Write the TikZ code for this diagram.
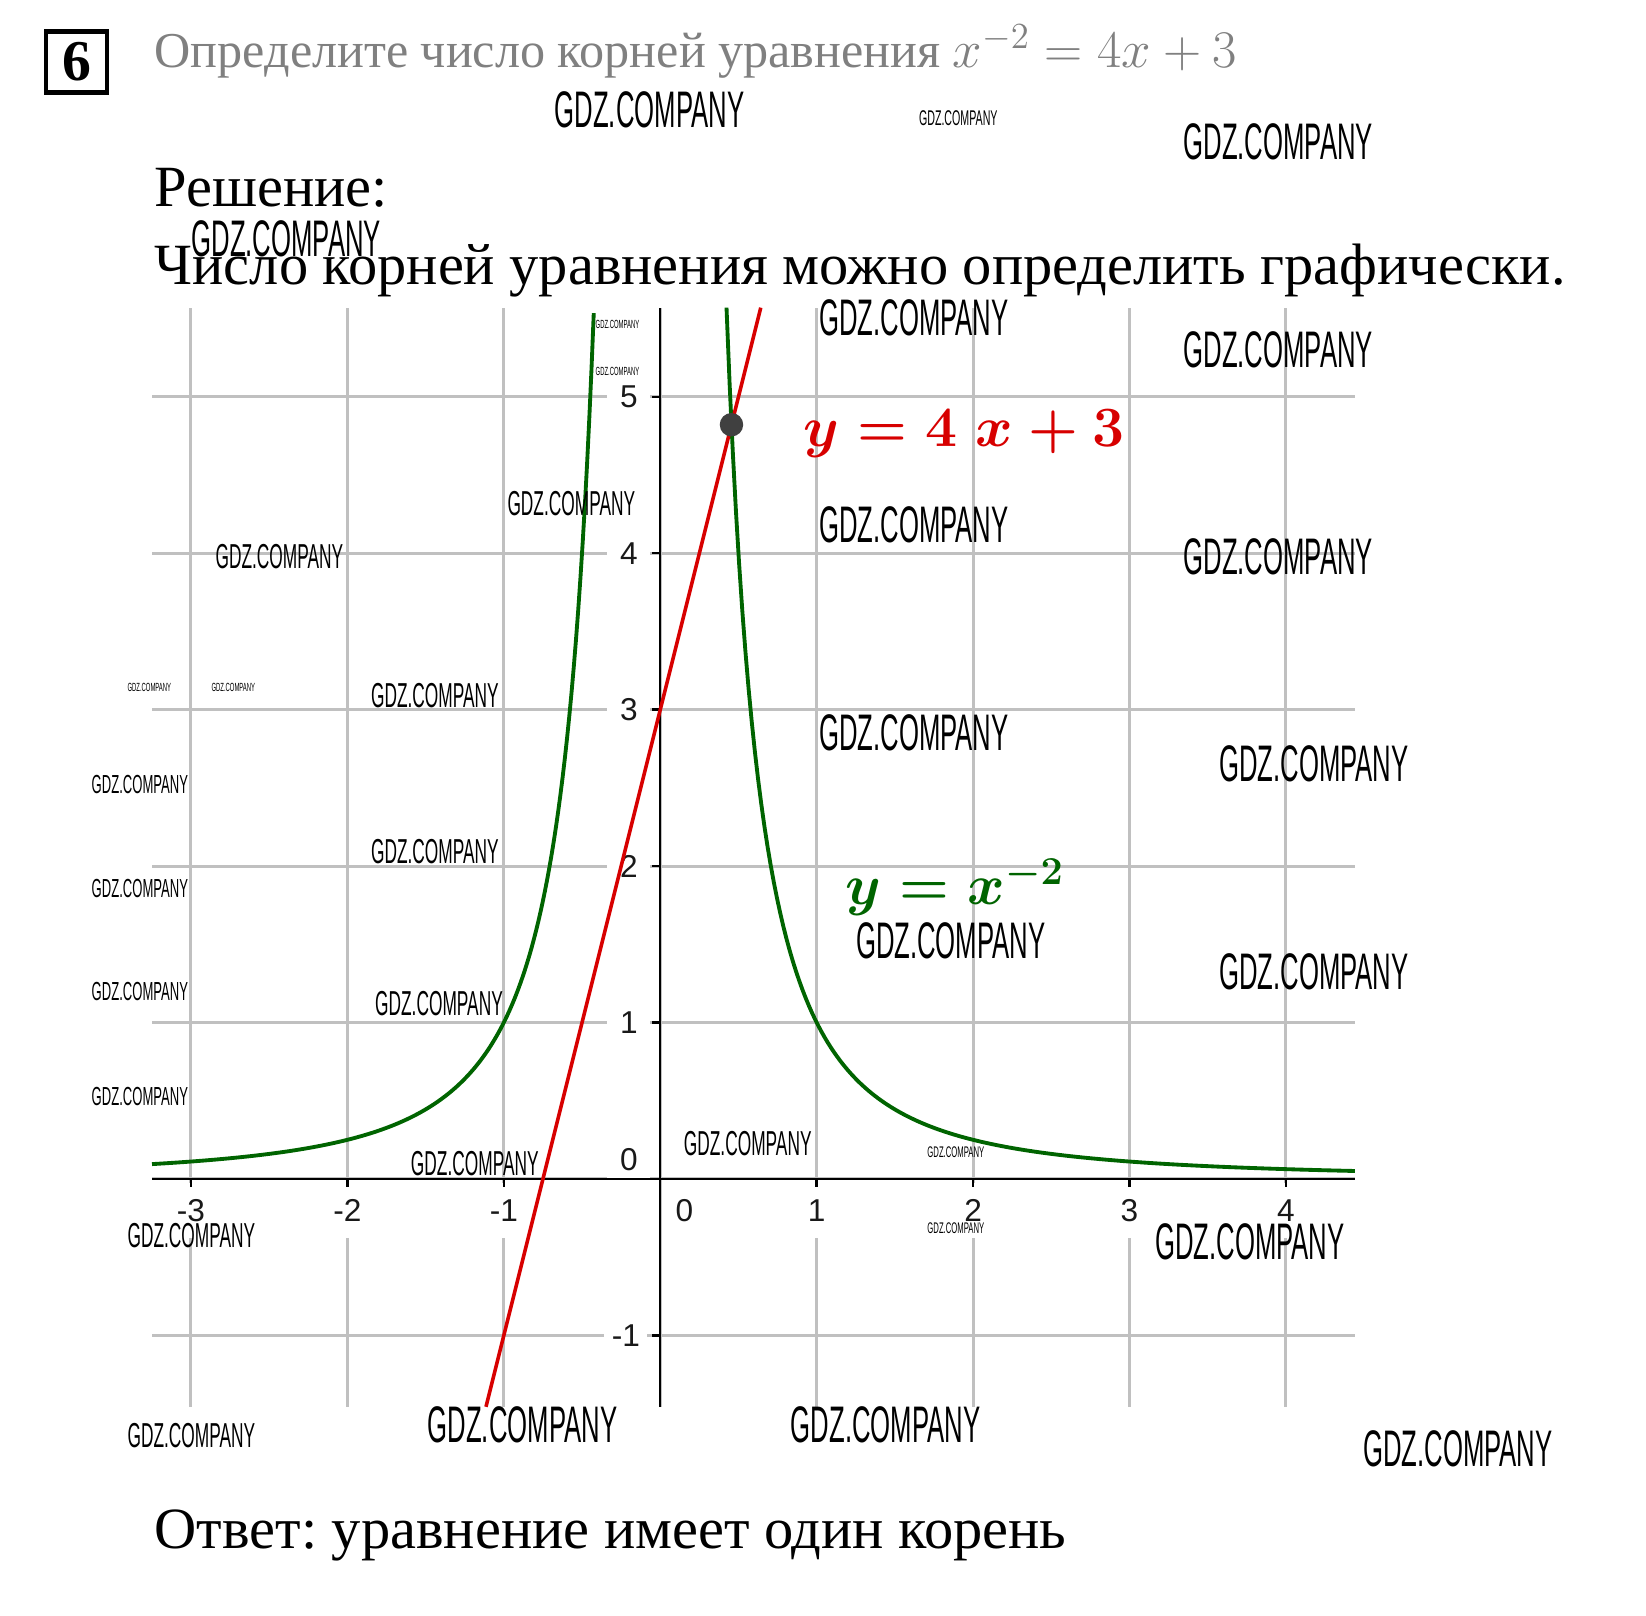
\documentclass[tikz,border=0pt]{standalone}
\usepackage{fontspec}
\setmainfont{Liberation Serif}
\newfontfamily\arialfont{Liberation Sans}
\usepackage{graphicx}
\usepackage{amsmath}
\frenchspacing

\definecolor{gridgray}{RGB}{192,192,192}
\definecolor{curvegreen}{RGB}{0,100,0}
\definecolor{linered}{RGB}{215,0,0}
\definecolor{labelgray}{RGB}{25,25,25}
\definecolor{titlegray}{RGB}{128,128,128}

\tikzstyle{gridline}=[gridgray, line width=1.1pt]
\tikzstyle{axis}=[black, line width=0.9pt]
\tikzstyle{xlab}=[font=\arialfont\fontsize{11.5}{11.5}\selectfont, text=labelgray, fill=white, inner sep=0pt, minimum height=0.7cm, minimum width=0.5cm]
\tikzstyle{ylab}=[font=\arialfont\fontsize{11.5}{11.5}\selectfont, text=labelgray, fill=white, inner sep=0pt, minimum height=0.5cm, minimum width=0.55cm]
\tikzstyle{textline}=[anchor=base west, inner sep=0pt]
\tikzstyle{wm}=[anchor=west, inner sep=0pt]
\newcommand{\wm}{\node[wm]}
\newcommand{\gdz}[1]{{\arialfont\fontsize{#1}{#1}\selectfont\scalebox{0.5}[1]{GDZ.COMPANY}}}

\begin{document}
\begin{tikzpicture}[x=2cm, y=2cm]
	\useasboundingbox (-4.221,-2.792) rectangle (6.302,7.537);
	%% the texts
	\node[draw, line width=1.6pt, minimum size=0.78cm, inner sep=0pt,
		font=\bfseries\fontsize{21}{21}\selectfont] (num) at (-3.732,7.141) {6};
	\node[textline, text=titlegray, font=\fontsize{18.25}{18.25}\selectfont] (task) at (-3.235,7.107)
		{Определите число корней уравнения \scalebox{0.928}{\fontsize{20.3}{20.3}\selectfont$x^{-2} = 4x + 3$}};
	\node[textline, font=\fontsize{21.25}{21.25}\selectfont] (sol) at (-3.235,6.215) {Решение:};
	\node[textline, font=\fontsize{21.25}{21.25}\selectfont] (sol2) at (-3.235,5.718)
		{Число корней уравнения можно определить графически.};
	\node[textline, font=\fontsize{21.25}{21.25}\selectfont] (ans) at (-3.235,-2.362)
		{Ответ: уравнение имеет один корень};
	%% the grid
	\foreach \y in {-1,...,5}
		\draw[gridline] (-3.249,\y) -- (4.443,\y);
	\foreach \x in {-3,...,4}
		\draw[gridline] (\x,-1.457) -- (\x,5.57);
	%% the tick labels
	\foreach \x in {-3,-2,-1,1,2,3,4}
		\node[xlab] (x\x) at (\x,-0.2) {\x};
	\node[xlab] (x0) at (0.154,-0.2) {0};
	\foreach \y in {1,...,5}
		\node[ylab] (y\y) at (-0.2,\y) {\y};
	\node[ylab] (ym1) at (-0.22,-1) {-1};
	\node[ylab] (y0) at (-0.2,0.121) {0};
	%% the axes
	\draw[axis] (-3.249,0) -- (4.443,0);
	\draw[axis] (0,-1.457) -- (0,5.57);
	\foreach \x in {-3,...,4}
		\draw[axis] (\x,0) -- (\x,-0.05);
	\foreach \y in {-1,...,5}
		\draw[axis] (0,\y) -- (-0.05,\y);
	%% the graphs
	\draw[curvegreen, line width=1.4pt, samples=200, domain=-3.249:-0.4237] plot (\x,{1/(\x*\x)});
	\draw[curvegreen, line width=1.4pt, samples=200, domain=0.4237:4.443] plot (\x,{1/(\x*\x)});
	\draw[linered, line width=1.3pt] (-1.114,-1.457) -- (0.6425,5.57);
	\fill[black!75] (0.4554,4.8216) circle (0.075);
	\node[textline, text=linered, font=\boldmath\fontsize{21}{21}\selectfont] (lred) at (0.913,4.685)
		{$y = 4\;x + 3$};
	\node[textline, text=curvegreen, font=\boldmath\fontsize{21}{21}\selectfont] (lgreen) at (1.181,1.752)
		{$y = x^{-2}$};
	%% the watermarks
	\wm (w1) at (-0.678,6.832) {\gdz{18.7}};
	\wm (w2) at (3.342,6.631) {\gdz{18.7}};
	\wm (w3) at (1.013,5.503) {\gdz{18.7}};
	\wm (w4) at (3.342,5.302) {\gdz{18.7}};
	\wm (w5) at (1.013,4.181) {\gdz{18.7}};
	\wm (w6) at (3.342,3.980) {\gdz{18.7}};
	\wm (w7) at (1.013,2.852) {\gdz{18.7}};
	\wm (w8) at (3.570,2.651) {\gdz{18.7}};
	\wm (w9) at (1.248,1.523) {\gdz{18.7}};
	\wm (w10) at (3.570,1.322) {\gdz{18.7}};
	\wm (w11) at (3.161,-0.403) {\gdz{18.7}};
	\wm (w12) at (-1.490,-1.570) {\gdz{18.7}};
	\wm (w13) at (0.832,-1.570) {\gdz{18.7}};
	\wm (w14) at (4.490,-1.725) {\gdz{18.7}};
	\wm (w15) at (-3.0,6.007) {\gdz{18.7}};
	\wm (m1) at (-0.980,4.315) {\gdz{12.6}};
	\wm (m2) at (-2.846,3.980) {\gdz{12.6}};
	\wm (m3) at (-1.852,3.087) {\gdz{12.6}};
	\wm (m4) at (-1.852,2.094) {\gdz{12.6}};
	\wm (m5) at (-1.826,1.121) {\gdz{12.6}};
	\wm (m6) at (-1.597,0.101) {\gdz{12.6}};
	\wm (m7) at (0.148,0.228) {\gdz{12.6}};
	\wm (m8) at (-3.409,-0.362) {\gdz{12.6}};
	\wm (m9) at (-3.409,-1.638) {\gdz{12.6}};
	\foreach \y [count=\i] in {2.523,1.859,1.195,0.530}
		\wm (s\i) at (-3.638,\y) {\gdz{9.5}};
	\wm (t1) at (1.651,6.779) {\gdz{7.75}};
	\wm (t2) at (-3.409,3.141) {\gdz{4.3}};
	\wm (t3) at (-2.872,3.141) {\gdz{4.3}};
	\wm (t4) at (-0.416,5.463) {\gdz{4.3}};
	\wm (t5) at (-0.416,5.161) {\gdz{4.3}};
	\wm (t6) at (1.705,0.168) {\gdz{5.6}};
	\wm (t7) at (1.705,-0.315) {\gdz{5.6}};
\end{tikzpicture}
\end{document}
